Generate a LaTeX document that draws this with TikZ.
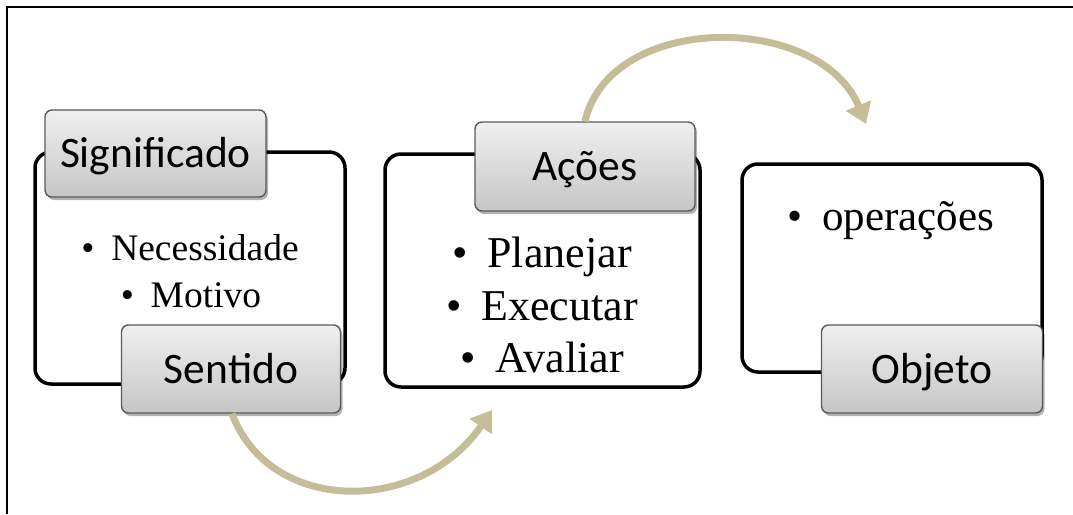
\documentclass[tikz,border=0pt]{standalone}
\usepackage{fontspec}
\setmainfont{Liberation Serif}
\newfontfamily\lblfont{Carlito}
\usetikzlibrary{arrows.meta,shadows}
\definecolor{khaki}{RGB}{196,189,151}
\definecolor{lblborder}{RGB}{90,90,90}
\newcommand{\bul}{•\hspace{0.45em}}
\begin{document}
\begin{tikzpicture}[x=1pt,y=-1pt,
  bigbox/.style={draw=black,line width=3.5pt,rounded corners=16pt,fill=white,inner sep=0pt},
  lbl/.style={draw=lblborder,line width=1.4pt,rounded corners=7pt,top color=gray!12,bottom color=gray!45,
    drop shadow={shadow xshift=2pt,shadow yshift=-3pt,opacity=0.3,fill=black},
    inner sep=0pt,font=\lblfont\fontsize{43.5}{50}\selectfont,text height=28pt,text depth=0pt},
  itemA/.style={anchor=base,inner sep=0pt,font=\fontsize{37.5}{42}\selectfont},
  itemB/.style={anchor=base,inner sep=0pt,font=\fontsize{44}{48}\selectfont},
  flow/.style={draw=khaki,line width=7pt,-{Triangle[length=20pt,width=26pt]}}]
\useasboundingbox (0,0) rectangle (1073,514);
\draw[line width=1.5pt] (7,514) -- (7,7) -- (1073,7);

% big boxes
\node[bigbox,minimum width=310pt,minimum height=232pt] (b1) at (190,268) {};
\node[bigbox,minimum width=315pt,minimum height=233pt] (b2) at (542.5,270.5) {};
\node[bigbox,minimum width=300pt,minimum height=208pt] (b3) at (892,268) {};

% items
\node[itemA] (n1) at (190,260) {\bul Necessidade};
\node[itemA] (n2) at (191,307) {\bul Motivo};
\node[itemB] (p1) at (542,267) {\bul Planejar};
\node[itemB] (p2) at (542,320) {\bul Executar};
\node[itemB] (p3) at (542,372) {\bul Avaliar};
\node[itemA,font=\fontsize{43}{46}\selectfont] (o1) at (891,230) {\bul operações};

% labels
\node[lbl,minimum width=221pt,minimum height=87pt] (sig) at (155.5,153.5) {Significado};
\node[lbl,minimum width=219pt,minimum height=88pt] (sen) at (231,369) {Sentido};
\node[lbl,minimum width=220pt,minimum height=89pt] (aco) at (585,166.5) {Ações};
\node[lbl,minimum width=221pt,minimum height=88pt] (obj) at (932,369) {Objeto};

% arrows
\coordinate (e1) at (492,410);
\coordinate (e2) at (866,124);
\draw[flow] (sen.south) ++(1,0) coordinate (s1) (s1) .. controls (270,515) and (420,515) .. (e1);
\draw[flow] (aco.north) coordinate (s2) (s2) .. controls (610,12) and (820,12) .. (e2);
\end{tikzpicture}
\end{document}
